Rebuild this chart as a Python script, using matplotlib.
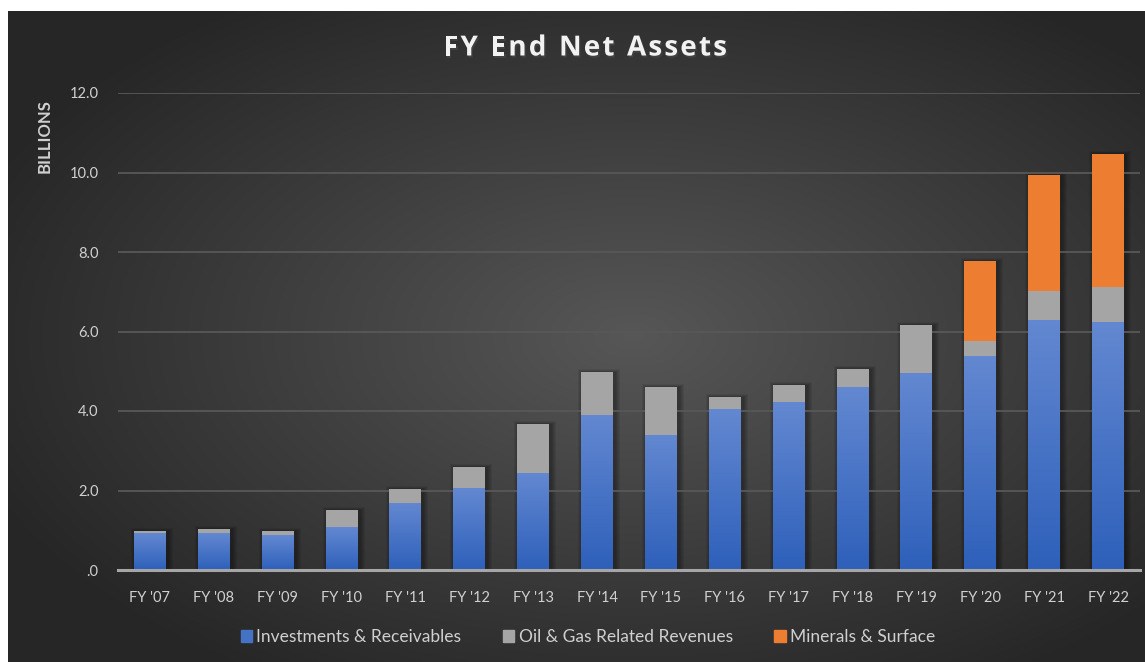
import numpy as np
import matplotlib.pyplot as plt
from matplotlib.patches import Rectangle, Patch
import matplotlib.patheffects as pe

# values in billions
years = ["FY '07", "FY '08", "FY '09", "FY '10", "FY '11", "FY '12", "FY '13", "FY '14",
         "FY '15", "FY '16", "FY '17", "FY '18", "FY '19", "FY '20", "FY '21", "FY '22"]
investments = [0.93, 0.93, 0.88, 1.08, 1.69, 2.06, 2.44, 3.90,
               3.40, 4.05, 4.22, 4.60, 4.96, 5.38, 6.29, 6.24]
oil_gas = [0.05, 0.10, 0.10, 0.43, 0.35, 0.53, 1.23, 1.08,
           1.20, 0.30, 0.43, 0.46, 1.20, 0.38, 0.73, 0.88]
minerals = [0, 0, 0, 0, 0, 0, 0, 0,
            0, 0, 0, 0, 0, 2.01, 2.92, 3.35]
series_names = ["Investments & Receivables", "Oil & Gas Related Revenues", "Minerals & Surface"]
yticks = [0, 2, 4, 6, 8, 10, 12]

BLUE = "#4472c4"
GRAY = "#a5a5a5"
ORANGE = "#ed7d31"
TXT = "#d0d0d0"
FONT = ["Lato", "DejaVu Sans"]

W, H = 1145, 662
fig = plt.figure(figsize=(W / 100, H / 100), dpi=100)
fig.patch.set_facecolor("white")

# dark panel with radial gradient
bg = fig.add_axes([8 / W, 0, 1 - 8 / W, 1 - 11 / H])
bg.set_axis_off()
gx, gy = np.meshgrid(np.linspace(0, 1, 400), np.linspace(0, 1, 250))
r = np.sqrt(((gx - 0.55) / 0.75) ** 2 + ((gy - 0.5) / 0.75) ** 2)
shade = np.clip(0.34 - 0.23 * r, 0.15, 0.34)
img = np.dstack([shade, shade, shade])
bg.imshow(img, extent=[0, 1, 0, 1], aspect="auto", origin="lower", interpolation="bilinear")
bg.set_xlim(0, 1)
bg.set_ylim(0, 1)

ax = fig.add_axes([118 / W, 1 - 570 / H, (1140 - 118) / W, (570 - 93) / H])
ax.patch.set_alpha(0)
ax.set_xlim(-0.5, len(years) - 0.5)
ax.set_ylim(0, 12)
x = np.arange(len(years))
width = 0.5

inv = np.array(investments)
og = np.array(oil_gas)
mn = np.array(minerals)
total = inv + og + mn

# soft shadow behind each whole column
px_x = (len(years)) / (1140 - 118)
px_y = 12 / (570 - 93)
for xi, t in zip(x, total):
    for k in range(1, 6):
        ax.add_patch(Rectangle((xi - width / 2 + 2 * px_x - k * px_x, 0),
                               width + 2 * k * px_x, t + (k - 1) * px_y * 0.7,
                               facecolor="black", edgecolor="none", alpha=0.07, zorder=1.5))

b1 = ax.bar(x, inv, width, color=BLUE, zorder=3)
b2 = ax.bar(x, og, width, bottom=inv, color=GRAY, zorder=3)
b3 = ax.bar(x, mn, width, bottom=inv + og, color=ORANGE, zorder=3)

# vertical gradient on the blue bars
grad = np.linspace(0, 1, 100).reshape(-1, 1)
top_c = np.array([0x63, 0x88, 0xd1]) / 255
bot_c = np.array([0x2e, 0x60, 0xba]) / 255
grad_img = bot_c + grad[..., None] * (top_c - bot_c)
for rect in b1:
    x0 = rect.get_x()
    im = ax.imshow(grad_img, extent=[x0, x0 + rect.get_width(), 0, rect.get_height()],
                   aspect="auto", origin="lower", zorder=3.5)
    im.set_clip_path(rect)
ax.set_xlim(-0.5, len(years) - 0.5)
ax.set_ylim(0, 12)

ax.set_yticks(yticks)
ax.set_yticklabels([f"{v:.1f}".lstrip("0") for v in yticks])
ax.set_xticks(x)
ax.set_xticklabels(years)
ax.tick_params(axis="both", length=0, colors=TXT, labelsize=10.5)
ax.tick_params(axis="y", pad=14)
ax.tick_params(axis="x", pad=15)
for lab in ax.get_xticklabels() + ax.get_yticklabels():
    lab.set_family(FONT)

ax.grid(axis="y", color="#585858", linewidth=1.3, zorder=0)
for s in ["top", "right", "left"]:
    ax.spines[s].set_visible(False)
ax.spines["bottom"].set_color("#a6a6a6")
ax.spines["bottom"].set_linewidth(2.2)
ax.spines["bottom"].set_zorder(5)

# title with a little letter spacing
title = "FY End Net Assets"
tkw = dict(color="#f2f2f2", fontsize=20, fontweight="bold", family=["Open Sans", "DejaVu Sans"],
           va="center", ha="left")
renderer = fig.canvas.get_renderer()
widths = []
for ch in title:
    t = fig.text(0, 0, ch if ch != " " else "n", **tkw)
    w = t.get_window_extent(renderer).width
    if ch == " ":
        w *= 0.45
    widths.append(w)
    t.remove()
track = 2.2
total_w = sum(widths) + track * (len(title) - 1)
xpos = 585 - total_w / 2
for ch, w in zip(title, widths):
    if ch != " ":
        fig.text(xpos / W, 1 - 48 / H, ch, **tkw,
                 path_effects=[pe.withSimplePatchShadow(offset=(1, -1.5), alpha=0.6)])
    xpos += w + track

fig.text(45 / W, 1 - 136 / H, "BILLIONS", ha="center", va="center", rotation=90,
         color=TXT, fontsize=12, fontweight="bold", family=FONT)

handles = [Patch(color=BLUE), Patch(color=GRAY), Patch(color=ORANGE)]
leg = fig.legend(handles, series_names, loc="center", bbox_to_anchor=(588 / W, 1 - 637 / H),
                 ncol=3, frameon=False, handlelength=0.65, handleheight=0.65,
                 handletextpad=0.25, columnspacing=2.4, prop={"family": FONT, "size": 12.5})
for t in leg.get_texts():
    t.set_color(TXT)

fig.savefig("out.png", dpi=100)
